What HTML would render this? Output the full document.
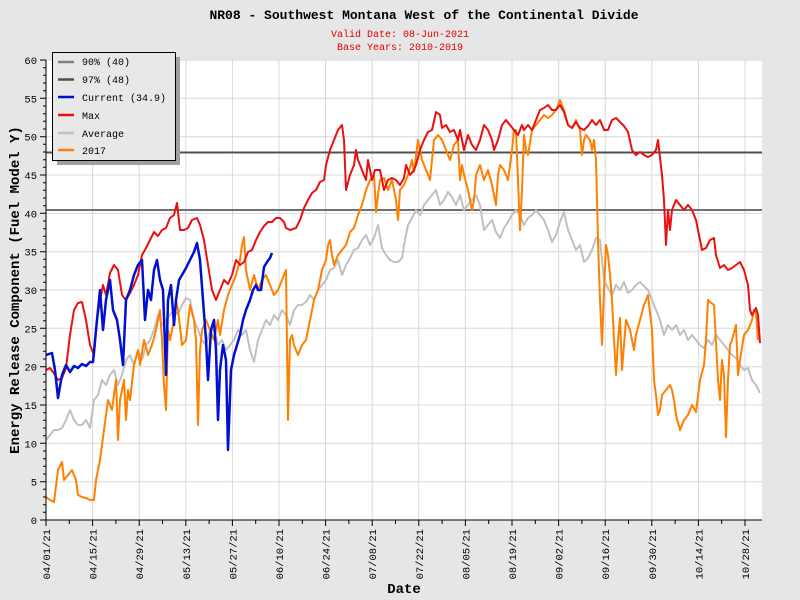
<!DOCTYPE html>
<html><head><meta charset="utf-8"><style>
html,body{margin:0;padding:0;background:#e6e6e6}
svg{display:block;font-family:"Liberation Mono","DejaVu Sans Mono",monospace}
</style></head><body>
<svg width="800" height="600" viewBox="0 0 800 600" xmlns="http://www.w3.org/2000/svg">
<rect width="800" height="600" fill="#e6e6e6"/>
<text x="424" y="19" font-size="13" font-weight="bold" text-anchor="middle" fill="#000">NR08 - Southwest Montana West of the Continental Divide</text>
<text x="400" y="37" font-size="10" text-anchor="middle" fill="#e00000">Valid Date: 08-Jun-2021</text>
<text x="400" y="50" font-size="10" text-anchor="middle" fill="#e00000">Base Years: 2010-2019</text>
<rect x="46" y="60" width="716" height="460" fill="#fff"/>
<g stroke="#d8d8d8" stroke-width="1">
<line x1="46" x2="762" y1="481.7" y2="481.7"/><line x1="46" x2="762" y1="443.3" y2="443.3"/><line x1="46" x2="762" y1="405" y2="405"/><line x1="46" x2="762" y1="366.7" y2="366.7"/><line x1="46" x2="762" y1="328.3" y2="328.3"/><line x1="46" x2="762" y1="290" y2="290"/><line x1="46" x2="762" y1="251.7" y2="251.7"/><line x1="46" x2="762" y1="213.3" y2="213.3"/><line x1="46" x2="762" y1="175" y2="175"/><line x1="46" x2="762" y1="136.7" y2="136.7"/><line x1="46" x2="762" y1="98.3" y2="98.3"/><line x1="46" x2="762" y1="60" y2="60"/>
<line y1="60" y2="520" x1="92.6" x2="92.6"/><line y1="60" y2="520" x1="139.2" x2="139.2"/><line y1="60" y2="520" x1="185.8" x2="185.8"/><line y1="60" y2="520" x1="232.4" x2="232.4"/><line y1="60" y2="520" x1="279" x2="279"/><line y1="60" y2="520" x1="325.6" x2="325.6"/><line y1="60" y2="520" x1="372.2" x2="372.2"/><line y1="60" y2="520" x1="418.8" x2="418.8"/><line y1="60" y2="520" x1="465.4" x2="465.4"/><line y1="60" y2="520" x1="512" x2="512"/><line y1="60" y2="520" x1="558.6" x2="558.6"/><line y1="60" y2="520" x1="605.2" x2="605.2"/><line y1="60" y2="520" x1="651.8" x2="651.8"/><line y1="60" y2="520" x1="698.4" x2="698.4"/><line y1="60" y2="520" x1="745" x2="745"/>
</g>
<line x1="46" x2="762" y1="210" y2="210" stroke="#707070" stroke-width="2"/>
<line x1="46" x2="762" y1="152.5" y2="152.5" stroke="#505050" stroke-width="2"/>
<g fill="none" stroke-width="2" stroke-linejoin="round">
<polyline stroke="#c0c0c0" points="46,440 50,435 54,430 58,430 62,428 66,420 70,410 74,420 78,425 82,425 86,420 90,428 94,400 98,395 102,380 106,385 110,375 114,370 118,385 122,375 126,360 130,355 134,365 138,350 142,360 146,345 150,340 154,330 158,315 162,325 166,320 170,315 174,310 178,315 182,305 186,298 190,300 194,320 198,330 202,340 206,345 210,330 214,330 218,345 222,340 226,350 230,345 234,340 238,330 242,335 246,330 250,350 254,362 258,340 262,330 266,320 270,325 274,315 278,320 282,310 286,315 290,325 294,310 298,305 302,305 306,302 310,295 314,300 318,290 322,285 326,280 330,270 334,268 338,260 342,275 346,265 350,258 354,250 358,248 362,240 366,235 370,245 374,238 378,225 382,248 386,255 390,260 394,262 398,262 402,258 404,245 408,225 412,218 416,210 420,215 424,205 428,200 432,195 436,190 440,205 444,200 448,192 452,197 456,205 460,195 464,210 468,205 472,200 476,195 480,205 484,230 488,225 492,220 496,232 500,238 504,228 508,222 512,215 516,210 520,215 524,225 528,218 532,215 536,210 540,215 544,220 548,230 552,242 556,235 560,222 564,212 568,230 572,240 576,250 580,245 584,262 588,258 592,250 596,238 600,240 604,280 608,288 612,295 616,285 620,290 624,282 628,293 632,290 636,285 640,282 644,286 648,290 652,300 656,310 660,320 664,335 668,325 672,330 676,325 680,335 684,330 688,340 692,335 696,340 700,345 704,348 708,340 712,345 716,335 720,340 724,345 728,350 732,355 736,358 740,365 744,370 748,368 752,380 756,385 760,393"/>
<polyline stroke="#ff8000" points="46,497 50,500 54,502 58,470 62,462 64,480 68,475 72,470 76,480 78,495 82,497 86,498 90,500 94,500 96,480 100,460 104,430 108,400 112,410 116,380 118,440 120,400 124,380 126,420 128,390 130,400 134,365 138,350 140,365 144,340 148,355 152,345 156,330 160,310 162,340 164,385 166,410 168,330 170,340 174,320 176,300 178,310 182,345 186,340 190,305 194,320 196,340 198,425 200,350 202,330 206,320 210,330 214,340 218,320 220,335 224,310 228,295 232,285 236,275 240,260 242,245 244,237 246,270 250,290 254,275 258,290 262,280 266,275 270,285 274,295 278,290 282,280 286,270 288,420 290,340 292,335 294,345 298,355 302,345 306,340 310,320 314,300 318,290 322,270 326,260 328,245 330,240 332,255 334,265 338,255 342,250 346,245 350,232 354,228 358,215 362,205 366,190 370,180 374,175 376,212 378,195 380,180 384,178 388,190 392,180 396,200 398,220 400,190 404,185 408,175 412,160 414,172 418,140 422,160 426,170 430,180 434,140 438,135 442,140 446,150 450,160 454,145 458,140 460,180 462,165 464,175 468,190 472,210 474,200 476,175 480,165 484,180 488,170 492,185 496,205 498,175 500,165 504,170 508,180 512,150 514,130 516,130 520,230 522,190 524,135 526,150 528,155 532,130 536,125 540,120 544,115 548,118 552,115 556,110 560,100 564,110 568,125 572,128 576,120 580,130 582,155 584,140 586,135 590,140 592,150 594,140 596,160 598,240 600,300 602,345 604,290 606,245 608,255 610,275 612,300 614,340 616,375 618,340 620,318 622,370 624,345 626,320 630,330 634,350 636,335 640,320 644,305 648,295 652,330 654,380 656,395 658,415 660,410 662,395 666,390 670,385 672,390 674,400 676,415 680,430 684,420 688,415 692,405 696,412 700,380 704,365 706,340 708,300 710,302 714,305 718,380 720,400 722,360 724,375 726,437 728,380 730,345 732,340 736,325 738,375 740,360 744,335 748,330 752,320 754,310 756,312 758,340"/>
<polyline stroke="#e81010" points="46,370 50,368 55,375 58,380 62,378 66,368 70,335 74,310 78,303 82,302 86,320 90,345 94,355 97,320 100,300 103,285 106,295 110,273 114,265 118,270 122,295 126,300 130,293 134,285 138,275 142,255 146,248 150,240 154,232 158,236 162,230 166,228 170,218 174,215 177,203 180,230 184,230 188,228 192,220 197,218 200,225 204,240 208,265 212,290 216,300 220,290 224,280 228,284 232,275 236,260 240,265 244,262 248,252 252,250 256,240 260,232 264,226 268,222 272,222 276,218 280,218 284,222 286,228 290,230 296,228 300,220 304,208 308,200 312,193 316,190 320,182 324,180 326,165 330,150 334,140 338,130 342,125 344,140 346,190 350,175 354,165 356,150 358,160 362,170 366,180 368,160 370,170 372,180 375,170 380,170 384,190 388,180 392,178 396,180 400,185 404,178 406,165 410,175 414,170 416,165 420,150 424,140 428,132 432,130 436,112 440,115 442,128 446,125 450,132 454,130 458,140 460,130 464,150 468,135 472,145 476,150 480,140 484,125 488,130 492,140 494,150 498,140 502,125 506,120 510,125 514,130 518,135 520,130 522,125 524,130 528,125 532,130 536,120 540,110 544,108 548,105 552,110 556,110 560,105 564,112 568,125 572,128 576,122 580,128 584,130 588,126 592,120 596,125 600,120 604,130 608,130 612,120 616,118 620,122 624,126 628,132 632,150 636,155 640,152 644,155 648,157 652,155 656,150 658,140 662,175 664,200 666,245 668,210 670,230 672,210 676,200 680,205 684,210 688,205 692,210 696,220 700,240 702,250 706,248 710,240 714,238 716,255 720,268 724,265 728,270 732,268 736,265 740,262 744,270 748,285 750,310 752,315 756,308 758,315 760,343"/>
<polyline stroke="#0010d0" stroke-width="2.5" points="46,355 52,353 55,370 58,398 62,375 66,365 70,372 74,366 78,368 82,364 86,366 90,362 93,362 96,330 100,290 103,330 106,300 110,280 113,310 117,320 120,340 123,365 126,300 130,290 134,275 138,265 142,260 145,320 148,290 151,300 154,270 157,260 160,280 163,290 166,375 168,300 171,285 174,325 176,300 179,280 182,275 186,268 190,260 194,252 197,243 200,260 203,300 206,340 208,380 211,330 214,320 216,350 218,420 220,370 223,345 226,360 228,450 231,370 234,355 237,345 240,335 243,320 246,310 250,300 253,290 256,285 258,290 261,290 264,267 267,262 270,258 272,253"/>
</g>
<g stroke="#000" stroke-width="1">
<line x1="46" y1="60" x2="46" y2="520"/><line x1="46" y1="520" x2="762" y2="520"/>
</g>
<g stroke="#000" stroke-width="1">
<path d="M40,520H46M40,481.7H46M40,443.3H46M40,405H46M40,366.7H46M40,328.3H46M40,290H46M40,251.7H46M40,213.3H46M40,175H46M40,136.7H46M40,98.3H46M40,60H46"/>
<path d="M43,512.3H46M43,504.7H46M43,497H46M43,489.3H46M43,474H46M43,466.3H46M43,458.7H46M43,451H46M43,435.7H46M43,428H46M43,420.3H46M43,412.7H46M43,397.3H46M43,389.7H46M43,382H46M43,374.3H46M43,359H46M43,351.3H46M43,343.7H46M43,336H46M43,320.7H46M43,313H46M43,305.3H46M43,297.7H46M43,282.3H46M43,274.7H46M43,267H46M43,259.3H46M43,244H46M43,236.3H46M43,228.7H46M43,221H46M43,205.7H46M43,198H46M43,190.3H46M43,182.7H46M43,167.3H46M43,159.7H46M43,152H46M43,144.3H46M43,129H46M43,121.3H46M43,113.7H46M43,106H46M43,90.7H46M43,83H46M43,75.3H46M43,67.7H46"/>
<path d="M46,520V526M92.6,520V526M139.2,520V526M185.8,520V526M232.4,520V526M279,520V526M325.6,520V526M372.2,520V526M418.8,520V526M465.4,520V526M512,520V526M558.6,520V526M605.2,520V526M651.8,520V526M698.4,520V526M745,520V526"/>
<path d="M69.3,520V524M115.9,520V524M162.5,520V524M209.1,520V524M255.7,520V524M302.3,520V524M348.9,520V524M395.5,520V524M442.1,520V524M488.7,520V524M535.3,520V524M581.9,520V524M628.5,520V524M675.1,520V524M721.7,520V524"/>
</g>
<g font-size="10.5" text-anchor="end" fill="#000">
<text x="37" y="524">0</text><text x="37" y="485.7">5</text><text x="37" y="447.3">10</text><text x="37" y="409">15</text><text x="37" y="370.7">20</text><text x="37" y="332.3">25</text><text x="37" y="294">30</text><text x="37" y="255.7">35</text><text x="37" y="217.3">40</text><text x="37" y="179">45</text><text x="37" y="140.7">50</text><text x="37" y="102.3">55</text><text x="37" y="64">60</text>
</g>
<g font-size="10.5" text-anchor="end" fill="#000">
<text transform="translate(50,529) rotate(-90)">04/01/21</text><text transform="translate(96.6,529) rotate(-90)">04/15/21</text><text transform="translate(143.2,529) rotate(-90)">04/29/21</text><text transform="translate(189.8,529) rotate(-90)">05/13/21</text><text transform="translate(236.4,529) rotate(-90)">05/27/21</text><text transform="translate(283,529) rotate(-90)">06/10/21</text><text transform="translate(329.6,529) rotate(-90)">06/24/21</text><text transform="translate(376.2,529) rotate(-90)">07/08/21</text><text transform="translate(422.8,529) rotate(-90)">07/22/21</text><text transform="translate(469.4,529) rotate(-90)">08/05/21</text><text transform="translate(516,529) rotate(-90)">08/19/21</text><text transform="translate(562.6,529) rotate(-90)">09/02/21</text><text transform="translate(609.2,529) rotate(-90)">09/16/21</text><text transform="translate(655.8,529) rotate(-90)">09/30/21</text><text transform="translate(702.4,529) rotate(-90)">10/14/21</text><text transform="translate(749,529) rotate(-90)">10/28/21</text>
</g>
<text x="404" y="593" font-size="14" font-weight="bold" text-anchor="middle">Date</text>
<text transform="translate(19,290) rotate(-90)" font-size="14" font-weight="bold" text-anchor="middle">Energy Release Component (Fuel Model Y)</text>
<rect x="57" y="57" width="123" height="108" fill="#a0a0a0"/>
<rect x="52.5" y="52.5" width="123" height="108" fill="#e8e8e8" stroke="#000"/>
<g stroke-width="2.5">
<line x1="58" x2="74" y1="62" y2="62" stroke="#808080"/>
<line x1="58" x2="74" y1="79.5" y2="79.5" stroke="#505050"/>
<line x1="58" x2="74" y1="97" y2="97" stroke="#0010d0"/>
<line x1="58" x2="74" y1="115" y2="115" stroke="#e81010"/>
<line x1="58" x2="74" y1="133" y2="133" stroke="#c0c0c0"/>
<line x1="58" x2="74" y1="150" y2="150" stroke="#ff8000"/>
</g>
<g font-size="10" fill="#000">
<text x="82" y="65">90% (40)</text><text x="82" y="83">97% (48)</text><text x="82" y="101">Current (34.9)</text><text x="82" y="119">Max</text><text x="82" y="137">Average</text><text x="82" y="154">2017</text>
</g>
</svg>
</body></html>
